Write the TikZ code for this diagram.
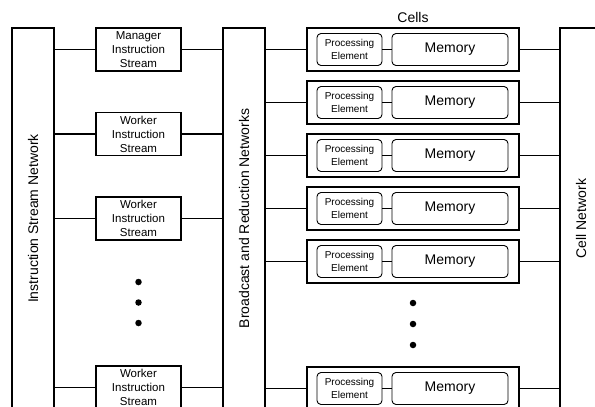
\documentclass[tikz,border=0pt]{standalone}
\usepackage{fontspec}
\setmainfont{Liberation Sans}
\newcommand{\bigtxt}{\fontsize{14}{16}\selectfont}
\newcommand{\midtxt}{\fontsize{11.5}{14}\selectfont}
\newcommand{\smalltxt}{\fontsize{10}{12.5}\selectfont}
\begin{document}
\begin{tikzpicture}[x=1pt,y=-1pt,
    net/.style={draw,line width=1.4pt,rotate=90,minimum width=381pt,minimum height=42pt,inner sep=0pt,font=\bigtxt},
    stream/.style={draw,line width=1.4pt,minimum width=85pt,minimum height=43pt,inner sep=0pt,align=center,font=\midtxt},
    cell/.style={draw,line width=1.4pt,minimum width=212pt,minimum height=43pt,inner sep=0pt},
    pe/.style={draw,rounded corners=4pt,line width=0.9pt,minimum width=65pt,minimum height=32pt,inner sep=0pt,align=center,font=\smalltxt},
    mem/.style={pe,minimum width=116pt,font=\bigtxt},
    wire/.style={line width=1.4pt},
    thin wire/.style={line width=0.8pt},
    blob/.style={circle,fill,inner sep=0pt,minimum size=6.5pt}]
    \useasboundingbox (0,0) rectangle (595,407);
    \clip (0,0) rectangle (595,407);
    % networks
    \node[net] (isn) at (33,218.5) {Instruction Stream Network};
    \node[net] (brn) at (244,218.5) {Broadcast and Reduction Networks};
    \node[net] (csn) at (581,218.5) {Cell Network};
    % instruction streams
    \node[stream] (ms) at (138.5,49.5) {Manager\\Instruction\\Stream};
    \node[stream] (ws1) at (138.5,134) {Worker\\Instruction\\Stream};
    \node[stream] (ws2) at (138.5,218.5) {Worker\\Instruction\\Stream};
    \node[stream] (ws3) at (138.5,387.5) {Worker\\Instruction\\Stream};
    \node[blob] (sd1) at (138.5,282) {};
    \node[blob] (sd2) at (138.5,302.5) {};
    \node[blob] (sd3) at (138.5,323) {};
    \draw[wire] (isn.south |- ms.west) -- (ms.west) (ms.east) -- (brn.north |- ms.east);
    \draw[wire] (isn.south |- ws1.west) -- (ws1.west) (ws1.east) -- (brn.north |- ws1.east);
    \draw[wire] (isn.south |- ws2.west) -- (ws2.west) (ws2.east) -- (brn.north |- ws2.east);
    \draw[wire] (isn.south |- ws3.west) -- (ws3.west) (ws3.east) -- (brn.north |- ws3.east);
    % cells
    \node[font=\bigtxt] (cells) at (413,17) {Cells};
    \node[cell] (c1) at (413,49.5) {};
    \node[pe] (pe1) at (349.5,49.5) {Processing\\Element};
    \node[mem] (m1) at (450,49.5) {Memory};
    \node[cell] (c2) at (413,102.5) {};
    \node[pe] (pe2) at (349.5,102.5) {Processing\\Element};
    \node[mem] (m2) at (450,102.5) {Memory};
    \node[cell] (c3) at (413,155.5) {};
    \node[pe] (pe3) at (349.5,155.5) {Processing\\Element};
    \node[mem] (m3) at (450,155.5) {Memory};
    \node[cell] (c4) at (413,208.5) {};
    \node[pe] (pe4) at (349.5,208.5) {Processing\\Element};
    \node[mem] (m4) at (450,208.5) {Memory};
    \node[cell] (c5) at (413,261.5) {};
    \node[pe] (pe5) at (349.5,261.5) {Processing\\Element};
    \node[mem] (m5) at (450,261.5) {Memory};
    \node[cell] (c6) at (413,388.5) {};
    \node[pe] (pe6) at (349.5,388.5) {Processing\\Element};
    \node[mem] (m6) at (450,388.5) {Memory};
    \node[blob] (cd1) at (413,303) {};
    \node[blob] (cd2) at (413,324) {};
    \node[blob] (cd3) at (413,345) {};
    \draw[thin wire] (pe1) -- (m1) (pe2) -- (m2) (pe3) -- (m3);
    \draw[thin wire] (pe4) -- (m4) (pe5) -- (m5) (pe6) -- (m6);
    \draw[wire] (brn.south |- c1.west) -- (c1.west) (c1.east) -- (csn.north |- c1.east);
    \draw[wire] (brn.south |- c2.west) -- (c2.west) (c2.east) -- (csn.north |- c2.east);
    \draw[wire] (brn.south |- c3.west) -- (c3.west) (c3.east) -- (csn.north |- c3.east);
    \draw[wire] (brn.south |- c4.west) -- (c4.west) (c4.east) -- (csn.north |- c4.east);
    \draw[wire] (brn.south |- c5.west) -- (c5.west) (c5.east) -- (csn.north |- c5.east);
    \draw[wire] (brn.south |- c6.west) -- (c6.west) (c6.east) -- (csn.north |- c6.east);
\end{tikzpicture}
\end{document}
